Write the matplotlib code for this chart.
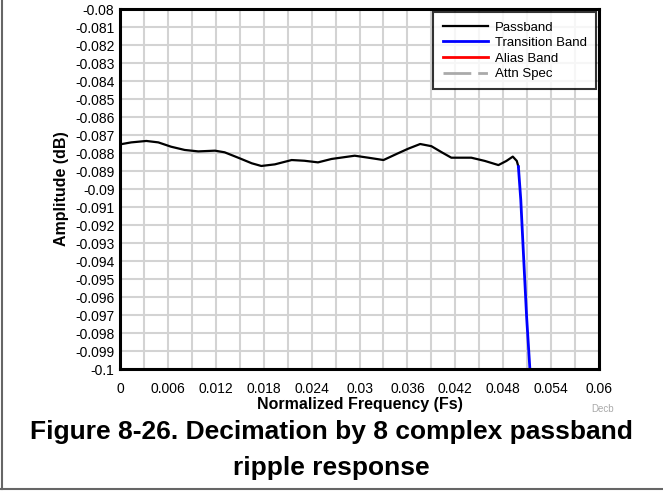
import matplotlib
matplotlib.use('Agg')
import matplotlib.pyplot as plt
from matplotlib.lines import Line2D
from matplotlib.ticker import MultipleLocator, FuncFormatter

plt.rcParams['font.family'] = ['Liberation Sans', 'DejaVu Sans']

# Passband ripple (normalized frequency, amplitude in dB)
pass_freq = [0.0, 0.0014, 0.0033, 0.0048, 0.0064, 0.0081, 0.0098, 0.0119,
             0.0131, 0.0148, 0.0165, 0.0177, 0.0194, 0.0215, 0.0231, 0.0248,
             0.0265, 0.0294, 0.0311, 0.0330, 0.0348, 0.0361, 0.0376, 0.0390,
             0.0403, 0.0415, 0.0440, 0.0457, 0.0474, 0.0484, 0.0492, 0.0497,
             0.0499]
pass_amp = [-0.08752, -0.08741, -0.08733, -0.08741, -0.08765, -0.08783, -0.08791, -0.08787,
            -0.08796, -0.08826, -0.08857, -0.08872, -0.08863, -0.08839, -0.08843, -0.08852,
            -0.08833, -0.08815, -0.08826, -0.08839, -0.08802, -0.08776, -0.08750, -0.08762,
            -0.08796, -0.08826, -0.08826, -0.08844, -0.08867, -0.08844, -0.08820, -0.08844,
            -0.08876]

# Transition band
trans_freq = [0.0499, 0.0502, 0.05051, 0.05093, 0.05134, 0.0515]
trans_amp = [-0.08876, -0.0906, -0.09339, -0.0971, -0.1, -0.1012]

# Alias band and attenuation spec lie outside the zoomed view
alias_freq, alias_amp = [], []
spec_freq, spec_amp = [], []

fig = plt.figure(figsize=(6.63, 4.95), dpi=100)
ax = fig.add_axes([0.181, 0.2545, 0.7225, 0.7273])

ax.plot(pass_freq, pass_amp, color='black', lw=1.6, solid_joinstyle='round', label='Passband')
ax.plot(trans_freq, trans_amp, color='blue', lw=2, solid_joinstyle='round', label='Transition Band')
ax.plot(alias_freq, alias_amp, color='red', lw=2, label='Alias Band')
ax.plot(spec_freq, spec_amp, color='#aaaaaa', lw=2, ls=(0, (10, 2.5, 3.5, 2.5)), label='Attn Spec')

ax.set_xlim(0, 0.06)
ax.set_ylim(-0.1, -0.08)
ax.xaxis.set_major_locator(MultipleLocator(0.006))
ax.xaxis.set_minor_locator(MultipleLocator(0.003))
ax.yaxis.set_major_locator(MultipleLocator(0.001))
fmt = FuncFormatter(lambda v, p: f'{round(v, 4):g}')
ax.xaxis.set_major_formatter(fmt)
ax.yaxis.set_major_formatter(fmt)
ax.tick_params(which='both', length=0, labelsize=10)
ax.tick_params(axis='x', pad=9)
ax.tick_params(axis='y', pad=4)
ax.grid(True, which='both', color='#d3d3d3', lw=1.5)
ax.set_axisbelow(True)
for s in ax.spines.values():
    s.set_linewidth(2.2)

ax.set_xlabel('Normalized Frequency (Fs)', fontsize=11.5, fontweight='bold', labelpad=1)
ax.set_ylabel('Amplitude (dB)', fontsize=11.5, fontweight='bold', labelpad=4)

leg = ax.legend(loc='upper right', fontsize=9.5, frameon=True, fancybox=False,
                borderaxespad=0.23, handlelength=3.45, handletextpad=0.5,
                labelspacing=0.25, borderpad=0.7)
leg.get_frame().set_edgecolor('black')
leg.get_frame().set_linewidth(1.5)

fig.text(0.9095, 0.1737, 'Decb', fontsize=7, color='#aaaaaa', ha='center', va='center')
fig.text(0.5, 0.127, 'Figure 8-26. Decimation by 8 complex passband', fontsize=19,
         fontweight='bold', ha='center', va='center')
fig.text(0.5, 0.054, 'ripple response', fontsize=19, fontweight='bold', ha='center', va='center')

# frame lines around the figure (left and bottom visible in the crop)
fig.add_artist(Line2D([0.0025, 0.0025], [0.012, 1.0], transform=fig.transFigure,
                      color='#666666', lw=1.5))
fig.add_artist(Line2D([0.0, 1.0], [0.012, 0.012], transform=fig.transFigure,
                      color='#666666', lw=1.5))

fig.savefig('out.png', dpi=100)
